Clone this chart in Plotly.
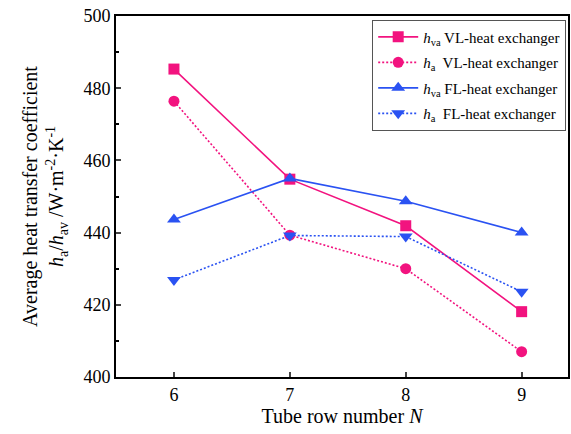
import plotly.graph_objects as go

rows = [6, 7, 8, 9]
hva_vl = [485.3, 454.8, 441.9, 418.1]
ha_vl = [476.4, 439.3, 430.0, 407.0]
hva_fl = [443.6, 455.0, 448.7, 440.0]
ha_fl = [426.9, 439.2, 438.9, 423.6]

PINK = "#F2137F"
BLUE = "#2A52F2"
FONT = "Liberation Serif, Times New Roman, serif"

series = [
    ("<i>h</i><sub>va</sub> VL-heat exchanger", hva_vl, PINK, "solid", "square", 11),
    ("<i>h</i><sub>a</sub>  VL-heat exchanger", ha_vl, PINK, "2px,2px", "circle", 11),
    ("<i>h</i><sub>va</sub> FL-heat exchanger", hva_fl, BLUE, "solid", "triangle-up", 12),
    ("<i>h</i><sub>a</sub>  FL-heat exchanger", ha_fl, BLUE, "2px,2px", "triangle-down", 12),
]

fig = go.Figure()
for i, (name, vals, color, dash, sym, msize) in enumerate(series):
    fig.add_trace(go.Scatter(
        x=rows, y=vals, name=name, mode="lines+markers", legendgroup=f"g{i}",
        line=dict(color=color, width=1.6, dash=dash),
        marker=dict(symbol=sym, size=msize, color=color),
    ))

fig.update_layout(
    width=571, height=434,
    margin=dict(l=116, r=3, t=16, b=57),
    paper_bgcolor="white", plot_bgcolor="white",
    font=dict(family=FONT, size=18, color="black"),
    showlegend=True,
    legend=dict(
        x=0.996, y=0.99, xanchor="right", yanchor="top",
        bordercolor="#555555", borderwidth=1, bgcolor="white",
        font=dict(family=FONT, size=15),
        tracegroupgap=3, itemwidth=40,
    ),
    xaxis=dict(
        range=[5.5, 9.4], tickvals=rows, ticks="inside", ticklen=5, tickwidth=2,
        showline=True, linewidth=2, linecolor="black", mirror=True,
        showgrid=False, zeroline=False, automargin=False,
        title=dict(text="Tube row number <i>N</i>", font=dict(size=20), standoff=4),
    ),
    yaxis=dict(
        range=[400, 500], tickvals=[400, 420, 440, 460, 480, 500],
        ticks="inside", ticklen=5, tickwidth=2,
        minor=dict(ticks="inside", ticklen=3, tickwidth=2, dtick=10, tickcolor="black"),
        showline=True, linewidth=2, linecolor="black", mirror=True,
        showgrid=False, zeroline=False, automargin=False,
        title=dict(
            text="Average heat transfer coefficient<br><i>h</i><sub>a</sub>/<i>h</i><sub>av</sub> /W·m<sup>-2</sup>·K<sup>-1</sup>",
            font=dict(size=20), standoff=14,
        ),
    ),
)

fig.write_html("out.html")
